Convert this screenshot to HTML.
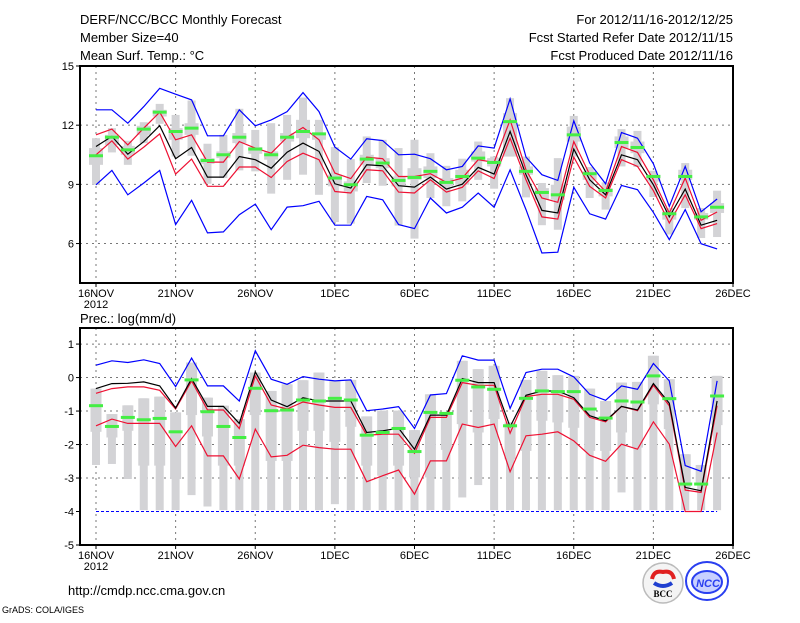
<!DOCTYPE html>
<html><head><meta charset="utf-8">
<style>
html,body{margin:0;padding:0;background:#fff;}
svg text{font-family:"Liberation Sans",sans-serif;fill:#000;}
</style></head>
<body>
<svg id="chart" width="800" height="618" viewBox="0 0 800 618" xmlns="http://www.w3.org/2000/svg">
<rect width="800" height="618" fill="#fff"/>
<g font-size="13">
<text x="80" y="24">DERF/NCC/BCC Monthly Forecast</text>
<text x="80" y="42">Member Size=40</text>
<text x="80" y="60">Mean Surf. Temp.: °C</text>
</g>
<g font-size="13" text-anchor="end">
<text x="733" y="24">For 2012/11/16-2012/12/25</text>
<text x="733" y="42">Fcst Started Refer Date 2012/11/15</text>
<text x="733" y="60">Fcst Produced Date 2012/11/16</text>
</g>
<g id="top"></g>
<g id="bot"></g>
<text x="80" y="323" font-size="13">Prec.: log(mm/d)</text>
<text x="68" y="595" font-size="13">http://cmdp.ncc.cma.gov.cn</text>
<text x="2" y="613" font-size="9">GrADS: COLA/IGES</text>
<g>
<circle cx="663" cy="583" r="20" fill="#f4f4f4" stroke="#bbb" stroke-width="1.5"/>
<path d="M652 579 q2 -9 11 -7 q9 -2 11 7" fill="none" stroke="#e02020" stroke-width="4"/>
<path d="M654 583 q9 6 18 0" fill="none" stroke="#2040d0" stroke-width="4"/>
<text x="663" y="597" font-size="9" font-weight="bold" text-anchor="middle" style="font-family:'Liberation Serif',serif">BCC</text>
</g>
<g>
<ellipse cx="707" cy="581" rx="21" ry="19" fill="none" stroke="#2a3ff0" stroke-width="2"/>
<ellipse cx="707" cy="582" rx="15" ry="11" fill="#c8d0ff" stroke="#2a3ff0" stroke-width="2"/>
<text x="708" y="587" font-size="11" font-weight="bold" text-anchor="middle" fill="#2a3ff0" style="fill:#2a3ff0;font-style:italic">NCC</text>
</g>
</svg>
<script>
const xTickLabels = ["16NOV","21NOV","26NOV","1DEC","6DEC","11DEC","16DEC","21DEC","26DEC"];
const tempYTicks = [15,12,9,6];
const precYTicks = [1,0,-1,-2,-3,-4,-5];

const tMaxLine = [12.78,12.78,12.10,12.94,13.87,13.57,13.28,11.46,11.46,12.78,11.97,12.27,12.69,13.65,12.69,10.89,10.28,11.31,11.22,10.50,10.53,10.30,9.74,9.91,10.95,10.84,13.33,10.38,9.49,9.20,12.22,10.08,9.03,11.63,11.34,10.04,7.89,9.91,7.61,8.26];
const tMinLine = [8.98,9.71,8.47,9.07,9.71,6.96,8.19,6.54,6.59,7.46,8.00,6.70,7.85,7.92,8.14,6.93,6.93,8.39,8.22,6.96,6.76,8.31,7.55,7.84,8.56,7.84,9.74,7.72,5.52,5.56,8.85,7.51,7.24,8.95,8.73,7.58,6.20,7.72,5.99,5.73];
const tMean = [10.92,11.43,10.53,11.17,11.98,10.30,10.87,9.37,9.37,10.41,10.25,9.82,10.63,11.09,10.67,9.03,8.81,9.99,9.94,8.93,8.86,9.37,8.76,9.01,9.86,9.52,11.68,9.49,7.68,7.55,10.79,9.23,8.47,10.50,10.25,8.98,7.35,8.76,6.93,7.18];
const tUpper = [11.51,11.80,11.00,11.85,12.66,11.26,11.51,10.13,10.13,11.17,10.84,10.58,11.39,11.88,11.26,9.57,9.29,10.38,10.30,9.40,9.40,9.54,9.10,9.32,10.25,10.11,12.27,9.74,8.31,8.09,11.17,9.49,8.64,10.92,10.62,9.23,7.55,9.32,7.18,7.60];
const tLower = [10.50,11.21,10.28,10.89,11.56,9.52,10.28,8.90,8.90,9.88,9.88,9.35,10.16,10.58,10.25,8.64,8.56,9.74,9.69,8.61,8.56,9.23,8.61,8.85,9.69,9.29,11.34,9.23,7.35,7.24,10.38,8.90,8.31,10.25,9.91,8.68,7.04,8.47,6.76,7.01];
const tMedian = [10.45,11.39,10.75,11.80,12.66,11.68,11.85,10.21,10.50,11.39,10.79,10.50,11.39,11.68,11.56,9.32,8.98,10.28,10.08,9.20,9.35,9.66,9.10,9.40,10.33,10.11,12.18,9.66,8.59,8.47,11.51,9.54,8.69,11.12,10.87,9.40,7.51,9.40,7.35,7.84];
const tWhiskTop = [11.34,11.85,11.21,12.15,13.08,12.52,13.25,11.06,11.51,12.83,11.76,12.10,12.52,13.40,12.27,10.89,10.28,11.43,11.26,10.84,11.26,10.58,9.94,10.30,11.17,10.41,13.37,10.41,9.07,10.33,12.47,9.88,9.10,11.80,11.71,9.69,7.80,10.08,7.80,8.68];
const tBoxTop = [10.84,11.51,10.95,11.97,12.78,11.85,12.10,10.33,10.67,11.60,10.89,10.67,11.60,12.27,11.60,9.49,9.15,10.50,10.33,9.40,9.82,9.91,9.32,9.74,10.67,10.33,12.61,9.91,8.81,8.98,11.93,9.66,8.81,11.43,11.17,9.49,7.63,9.74,7.55,8.05];
const tBoxBot = [9.99,11.00,10.50,11.51,12.44,11.26,11.51,10.04,10.33,11.09,10.55,10.25,11.17,11.34,11.26,8.90,8.64,9.99,9.82,8.90,9.23,9.32,8.90,8.98,10.16,9.91,10.41,9.49,8.22,8.22,11.17,9.23,8.39,10.84,10.58,9.15,7.21,9.23,7.21,7.55];
const tWhiskBot = [8.98,10.62,9.99,11.09,12.07,10.41,10.45,9.03,9.32,9.71,9.66,8.53,9.23,9.49,8.47,7.09,7.01,9.07,8.93,6.91,6.25,8.31,7.89,8.14,9.23,8.78,10.41,8.34,6.93,6.70,10.41,8.31,7.72,9.91,9.88,8.36,6.46,7.80,6.28,6.33];

const pMaxLine = [0.37,0.50,0.45,0.53,0.42,-0.27,0.58,-0.25,-0.25,-0.70,0.80,-0.05,-0.20,0.03,-0.05,-0.10,-0.07,-0.99,-0.94,-0.87,-1.52,-0.52,-0.48,0.65,0.52,0.52,-0.92,0.15,0.25,0.25,0.02,-0.50,-0.68,-0.25,-0.35,0.42,-0.10,-2.63,-2.80,-0.10];
const pMean = [-0.33,-0.18,-0.17,-0.13,-0.25,-0.91,-0.03,-0.86,-0.86,-1.37,0.17,-0.67,-0.87,-0.60,-0.70,-0.70,-0.70,-1.64,-1.59,-1.51,-2.14,-1.12,-1.12,-0.03,-0.15,-0.15,-1.47,-0.53,-0.40,-0.40,-0.60,-1.14,-1.29,-0.86,-0.97,-0.18,-0.77,-3.28,-3.38,-0.70];
const pUpper = [-0.47,-0.33,-0.28,-0.28,-0.38,-0.94,-0.10,-0.97,-0.97,-1.52,0.05,-0.82,-0.94,-0.73,-0.82,-0.89,-0.89,-1.72,-1.69,-1.69,-2.26,-1.19,-1.19,-0.15,-0.23,-0.23,-1.66,-0.57,-0.50,-0.50,-0.65,-1.19,-1.32,-0.86,-0.99,-0.23,-0.84,-3.36,-3.43,-0.84];
const pLower = [-1.44,-1.24,-1.37,-1.37,-1.37,-2.06,-1.44,-2.34,-2.34,-3.03,-1.54,-2.37,-2.32,-2.02,-2.09,-2.14,-2.14,-3.11,-2.93,-2.76,-3.48,-2.49,-2.49,-1.39,-1.49,-1.39,-2.81,-1.74,-1.69,-1.62,-1.89,-2.32,-2.50,-1.99,-2.14,-1.32,-1.99,-4,-4,-1.64];
const pMinLine = [-4,-4,-4,-4,-4,-4,-4,-4,-4,-4,-4,-4,-4,-4,-4,-4,-4,-4,-4,-4,-4,-4,-4,-4,-4,-4,-4,-4,-4,-4,-4,-4,-4,-4,-4,-4,-4,-4,-4,-4];
const pMedian = [-0.84,-1.46,-1.19,-1.26,-1.22,-1.62,-0.07,-1.02,-1.46,-1.79,-0.32,-0.99,-0.97,-0.67,-0.70,-0.62,-0.67,-1.72,-1.64,-1.52,-2.21,-1.04,-1.07,-0.08,-0.28,-0.35,-1.44,-0.62,-0.40,-0.42,-0.42,-0.94,-1.21,-0.70,-0.73,0.05,-0.63,-3.18,-3.18,-0.55];
const pWhiskTop = [-0.33,-1.09,-0.83,-0.62,-0.57,-1.04,0.45,-0.60,-0.84,-1.24,0.15,-0.40,-0.20,-0.08,0.15,-0.10,-0.07,-1.16,-0.99,-0.99,-1.57,-0.50,-1.09,0.50,0.25,0.35,-1.34,-0.07,0.20,0.07,0.05,-0.33,-0.70,-0.15,-0.13,0.65,-0.05,-2.29,-2.61,0.05];
const pBoxBot = [-1.62,-1.79,-1.59,-2.63,-2.63,-3.03,-1.12,-1.76,-2.63,-2.63,-1.12,-2.49,-2.49,-1.59,-1.59,-1.92,-1.47,-2.63,-2.93,-2.63,-2.98,-2.98,-2.16,-1.39,-1.64,-1.24,-2.44,-2.19,-1.29,-1.34,-1.50,-2.19,-2.19,-1.64,-2.09,-0.80,-1.54,-3.28,-3.18,-1.42];
const pWhiskBot = [-2.61,-2.58,-3.03,-3.96,-3.96,-3.96,-3.51,-3.85,-3.96,-3.96,-3.96,-3.96,-3.96,-3.96,-3.96,-3.78,-3.96,-3.96,-3.96,-3.96,-3.96,-3.96,-3.96,-3.58,-3.21,-3.96,-3.96,-3.96,-3.96,-3.96,-3.96,-3.96,-3.96,-3.43,-3.96,-3.96,-3.96,-3.96,-3.96,-3.96];

const NS = "http://www.w3.org/2000/svg";
const X0 = 80, X1 = 733, D0 = 96, DAYPX = (733 - 96) / 40;
function xScale(d){ return D0 + d * DAYPX; }
function mk(parent, tag, attrs){
  const e = document.createElementNS(NS, tag);
  for (const k in attrs) e.setAttribute(k, attrs[k]);
  parent.appendChild(e); return e;
}
function polyline(g, ys, yS, color, name){
  const pts = ys.map((v,i)=> xScale(i).toFixed(1)+","+yS(v).toFixed(1)).join(" ");
  const p = mk(g, "polyline", {points: pts, fill: "none", stroke: color, "stroke-width": 1.2});
  
  
}
function panel(g, top, bottom, vTop, vBot, yTicks, gridVals, s){
  const yS = v => top + (vTop - v) / (vTop - vBot) * (bottom - top);
  for (let k = 0; k < 8; k++){
    const gx = xScale(k*5);
    const l = mk(g, "line", {x1: gx, x2: gx, y1: top, y2: bottom, stroke: "#777", "stroke-dasharray": "2,4", "stroke-width": 1});
    
    
  }
  gridVals.forEach(v=>{
    const l = mk(g, "line", {x1: X0, x2: X1, y1: yS(v), y2: yS(v), stroke: "#777", "stroke-dasharray": "2,4", "stroke-width": 1});
    
    
  });
  for (let i = 0; i < s.wt.length; i++){
    const cx = xScale(i);
    const w = mk(g, "rect", {x: cx-4, width: 8, y: yS(s.wt[i]), height: Math.max(0, yS(s.wb[i]) - yS(s.wt[i])), fill: "#d3d3d6"});
    
    
    const bw = s.boxW;
    const b = mk(g, "rect", {x: cx-bw/2, width: bw, y: yS(s.bt[i]), height: Math.max(0, yS(s.bb[i]) - yS(s.bt[i])), fill: "#d3d3d6"});
    
    
  }
  if (s.minDashed){
    const pts = s.minLine.map((v,i)=> xScale(i).toFixed(1)+","+yS(v).toFixed(1)).join(" ");
    const p = mk(g, "polyline", {points: pts, fill: "none", stroke: "#0000ff", "stroke-width": 1, "stroke-dasharray": "3,2"});
    
    
  } else polyline(g, s.minLine, yS, "#0000ff", "min-line");
  polyline(g, s.maxLine, yS, "#0000ff", "max-line");
  polyline(g, s.lower, yS, "#ee1133", "lower-confidence-line");
  polyline(g, s.upper, yS, "#ee1133", "upper-confidence-line");
  polyline(g, s.mean, yS, "#000000", "ensemble-mean-line");
  s.med.forEach((v,i)=>{
    const r = mk(g, "rect", {x: xScale(i)-7, width: 14, y: yS(v)-1.5, height: 3, fill: "#44ee44"});
    
    
  });
  const f = mk(g, "rect", {x: X0, y: top, width: X1-X0, height: bottom-top, fill: "none", stroke: "#000", "stroke-width": 2});
  
  
  yTicks.forEach(v=>{
    mk(g, "line", {x1: X0-4, x2: X0, y1: yS(v), y2: yS(v), stroke: "#000"});
    const t = mk(g, "text", {x: X0-6, y: yS(v)+4, "font-size": 11, "text-anchor": "end"});
    t.textContent = v;
    
    
  });
  xTickLabels.forEach((lab,k)=>{
    const gx = xScale(k*5);
    mk(g, "line", {x1: gx, x2: gx, y1: bottom, y2: bottom+4, stroke: "#000"});
    const t = mk(g, "text", {x: gx, y: bottom+14, "font-size": 11, "text-anchor": "middle"});
    t.textContent = lab;
    
    
  });
  const yr = mk(g, "text", {x: xScale(0), y: bottom+25, "font-size": 11, "text-anchor": "middle"});
  yr.textContent = "2012";
  
  
}

panel(document.getElementById("top"), 66, 283, 15, 4, tempYTicks, [12,9,6], {
  wt: tWhiskTop, bt: tBoxTop, bb: tBoxBot, wb: tWhiskBot, boxW: 14,
  maxLine: tMaxLine, minLine: tMinLine, upper: tUpper, lower: tLower, mean: tMean, med: tMedian
});
panel(document.getElementById("bot"), 328, 545, 1.48, -5, precYTicks, [1,0,-1,-2,-3], {
  wt: pWhiskTop, bt: pWhiskTop, bb: pBoxBot, wb: pWhiskBot, boxW: 11,
  maxLine: pMaxLine, minLine: pMinLine, minDashed: true, upper: pUpper, lower: pLower, mean: pMean, med: pMedian
});
</script>
</body></html>
